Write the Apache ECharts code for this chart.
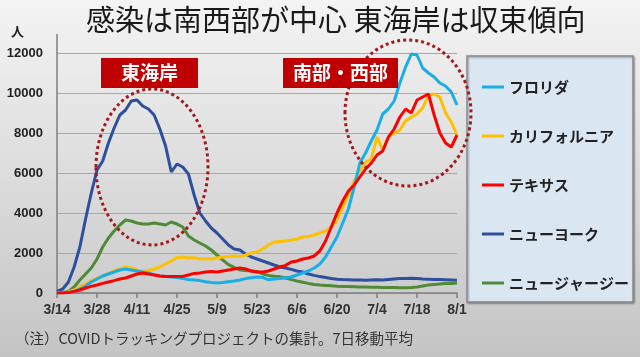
<!DOCTYPE html>
<html><head><meta charset="utf-8">
<script src="https://cdn.jsdelivr.net/npm/echarts@6/dist/echarts.min.js"></script>
<style>html,body{margin:0;padding:0;}#c{width:640px;height:357px;}</style>
</head><body><div id="c"></div>
<script>
// every 2 days from 3/14 to 8/1
const categories = (function(){const a=[];const d=new Date(2020,2,14);for(let i=0;i<71;i++){a.push((d.getMonth()+1)+'/'+d.getDate());d.setDate(d.getDate()+2);}return a;})();
const seriesNames = ['フロリダ','カリフォルニア','テキサス','ニューヨーク','ニュージャージー'];
const newYork = [80,200,550,1300,2300,3700,5000,6150,6600,7500,
  8250,8900,9150,9600,9650,9350,9200,8900,8200,7350,
  6050,6450,6300,5950,4900,4000,3600,3250,3000,2700,
  2400,2200,2150,1950,1800,1700,1600,1500,1400,1300,
  1250,1180,1100,1050,950,880,820,770,720,690,
  670,660,650,650,640,650,660,650,680,700,
  720,730,740,720,700,690,680,670,660,650,640];
const newJersey = [0,20,80,300,650,950,1250,1700,2300,2750,
  3100,3400,3650,3600,3500,3450,3450,3500,3450,3400,
  3550,3450,3300,2850,2650,2500,2350,2150,1900,1650,
  1420,1280,1150,1120,1100,1080,950,880,840,820,
  750,670,600,540,480,430,400,380,360,340,
  330,320,310,300,300,290,290,280,270,270,
  260,260,270,300,350,400,430,450,470,480,500];
const florida = [0,10,30,80,200,350,550,700,850,950,
  1050,1150,1200,1150,1100,1050,1000,920,850,820,
  800,770,720,680,650,620,560,520,500,520,
  560,600,650,720,760,800,780,660,700,730,
  760,800,900,1000,1100,1250,1450,1800,2300,2800,
  3500,4200,5300,6500,7000,7600,8150,8950,9200,9600,
  10500,11300,11950,11900,11250,11000,10800,10500,10350,10050,9400];
const california = [0,20,50,150,300,450,620,750,850,980,
  1100,1200,1300,1250,1150,1080,1130,1200,1300,1450,
  1600,1780,1800,1750,1760,1700,1720,1700,1750,1800,
  1820,1850,1820,1900,2000,2050,2200,2400,2550,2580,
  2600,2650,2700,2800,2820,2900,3000,3100,3300,3650,
  4300,4900,5600,6100,6550,6700,7800,7150,7800,8000,
  8150,8600,8800,8950,9250,9900,9950,9800,9000,8550,7900];
const texas = [0,5,20,80,150,250,330,400,480,550,
  620,700,750,850,950,1000,950,900,850,830,
  820,820,830,900,980,1000,1050,1080,1050,1100,
  1150,1200,1250,1200,1100,1050,1050,1100,1200,1300,
  1380,1550,1600,1700,1750,1850,2100,2600,3300,4000,
  4600,5100,5400,5800,6200,6500,6900,7100,7800,8200,
  8800,9200,9000,9650,9800,9950,8900,8000,7500,7300,7900];
const yTicks = [0,2000,4000,6000,8000,10000,12000];

const colors = {'フロリダ':'#1aaee8','カリフォルニア':'#ffc000','テキサス':'#ff0000','ニューヨーク':'#2d4f9e','ニュージャージー':'#4f8b36'};
const dataMap = {'フロリダ':florida,'カリフォルニア':california,'テキサス':texas,'ニューヨーク':newYork,'ニュージャージー':newJersey};
const drawOrder = ['ニューヨーク','ニュージャージー','カリフォルニア','フロリダ','テキサス'];
const JP = '"Noto Sans CJK JP", sans-serif';

const chart = echarts.init(document.getElementById('c'));
chart.setOption({
  animation:false,
  backgroundColor:{type:'linear',x:0,y:0,x2:0,y2:1,colorStops:[{offset:0,color:'#f4f4f4'},{offset:1,color:'#c4c4c4'}]},
  grid:{left:57,right:183,top:53,bottom:64},
  xAxis:{type:'category',data:categories,boundaryGap:false,
    axisLine:{lineStyle:{color:'#7f7f7f',width:1.5}},
    axisTick:{interval:6,length:5,lineStyle:{color:'#7f7f7f',width:1.5}},
    axisLabel:{interval:6,margin:10,color:'#333',fontSize:14,fontFamily:'"Liberation Sans", sans-serif',fontWeight:'bold'},
    splitLine:{show:false}},
  yAxis:{type:'value',min:yTicks[0],max:yTicks[yTicks.length-1],interval:2000,
    axisLine:{show:true,lineStyle:{color:'#7f7f7f',width:1.5}},
    axisTick:{show:false},
    axisLabel:{margin:14,color:'#222',fontSize:13,fontWeight:'bold',fontFamily:'"Liberation Sans", sans-serif',formatter:v=>String(v)},
    splitLine:{lineStyle:{color:'#a8a8a8',width:1.2}}},
  legend:{data:seriesNames,orient:'vertical',left:477,top:72,itemWidth:22,itemHeight:3,icon:'rect',itemGap:29,
    textStyle:{fontSize:15,fontWeight:'bold',color:'#222',fontFamily:JP,lineHeight:20}},
  series:drawOrder.map(n=>({name:n,type:'line',data:dataMap[n],showSymbol:false,symbol:'none',
    lineStyle:{width:3,color:colors[n]},itemStyle:{color:colors[n]}})),
  graphic:[
    {type:'rect',z:-1,shape:{x:467,y:56,width:166,height:246},style:{fill:'#dbe6f3',stroke:'#8c8c8c',lineWidth:1.5,shadowColor:'rgba(0,0,0,0.35)',shadowBlur:2,shadowOffsetX:1,shadowOffsetY:1}},
    {type:'line',shape:{x1:57,y1:34,x2:57,y2:53},style:{stroke:'#7f7f7f',lineWidth:1.5}},
    {type:'text',left:86,top:5,style:{text:'感染は南西部が中心 東海岸は収束傾向',fontSize:29,fontFamily:JP,fill:'#1a1a1a'}},
    {type:'text',left:11,top:25,style:{text:'人',fontSize:13,fontWeight:'bold',fontFamily:JP,fill:'#222'}},
    {type:'text',left:15,top:331,style:{text:'（注）COVIDトラッキングプロジェクトの集計。7日移動平均',fontSize:14.5,fontFamily:JP,fill:'#333'}},
    {type:'ellipse',z:50,shape:{cx:152,cy:167,rx:56,ry:78},style:{fill:'none',stroke:'#a31919',lineWidth:3,lineDash:[3,3]}},
    {type:'ellipse',z:50,shape:{cx:408,cy:113,rx:63,ry:73},style:{fill:'none',stroke:'#a31919',lineWidth:3,lineDash:[3,3]}},
    {type:'rect',z:60,shape:{x:101,y:58,width:97,height:30},style:{fill:'#c00000'}},
    {type:'text',z:61,x:149.5,y:73,style:{text:'東海岸',fontSize:19,fontWeight:'bold',fontFamily:JP,fill:'#fff',align:'center',verticalAlign:'middle'}},
    {type:'rect',z:60,shape:{x:283,y:58,width:115,height:30},style:{fill:'#c00000'}},
    {type:'text',z:61,x:340.5,y:73,style:{text:'南部・西部',fontSize:19,fontWeight:'bold',fontFamily:JP,fill:'#fff',align:'center',verticalAlign:'middle'}}
  ]
});
</script></body></html>
